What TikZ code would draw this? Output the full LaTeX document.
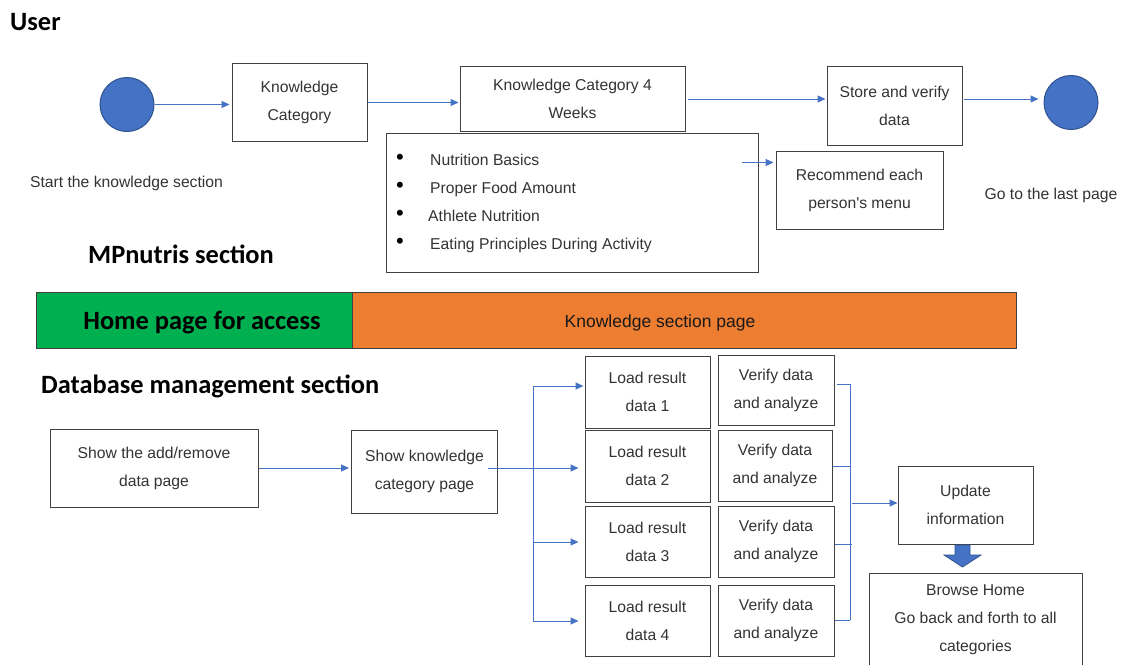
\documentclass[tikz,border=0pt]{standalone}
\usepackage{fontspec}
\setmainfont{Liberation Sans}[Ligatures=TeXOff]
\newfontfamily\headfont{Carlito}
\usetikzlibrary{arrows.meta}

\definecolor{flowblue}{HTML}{4472C4}
\definecolor{ringblue}{HTML}{2F528F}
\definecolor{boxline}{HTML}{404040}
\definecolor{boxtext}{HTML}{333333}
\definecolor{homegreen}{HTML}{00B050}
\definecolor{pageorange}{HTML}{ED7D31}

\tikzset{
  stepbox/.style={draw=boxline, line width=1pt, inner sep=0pt, align=center,
    text=boxtext, font=\fontsize{15.7}{28}\selectfont},
  flow/.style={draw=flowblue, line width=1pt},
  arr/.style={flow, -{Triangle[length=8pt,width=7pt]}},
  state/.style={circle, fill=flowblue, draw=ringblue, line width=1pt,
    minimum size=54pt, inner sep=0pt},
  heading/.style={anchor=base west, inner sep=0pt,
    font=\headfont\bfseries\fontsize{26.4}{30}\selectfont},
  caption/.style={anchor=base, inner sep=0pt, text=boxtext,
    font=\fontsize{15.7}{20}\selectfont},
  item/.style={anchor=base west, inner sep=0pt, text=boxtext,
    font=\fontsize{15.7}{20}\selectfont},
  dot/.style={anchor=base, inner sep=0pt, text=black, font=\fontsize{22}{24}\selectfont},
  band/.style={draw=boxline, line width=1pt, inner sep=0pt, minimum height=56pt},
}

\begin{document}
\begin{tikzpicture}[x=1pt,y=-1pt]
\useasboundingbox (0,0) rectangle (1123,664);
\begin{scope}
\clip (0,0) rectangle (1123,664);

% ---------- User section ----------
\node[heading] (userhead) at (10,30) {User};

\node[state] (start) at (127,104.5) {};
\node[caption] (startcap) at (126.5,187) {Start the knowledge section};

\node[stepbox, minimum width=135pt, minimum height=78pt] (kc) at (299.5,102.5)
  {Knowledge\\Category};
\node[stepbox, minimum width=225pt, minimum height=65pt] (kc4) at (572.5,98.5)
  {Knowledge Category 4\\Weeks};
\node[stepbox, minimum width=135pt, minimum height=79pt] (store) at (894.5,105.5)
  {Store and verify\\data};
\node[state] (finish) at (1071,102.5) {};
\node[caption] (finishcap) at (1051,199) {Go to the last page};

% topics of the four-week category
\node[stepbox, minimum width=372pt, minimum height=139pt] (topics) at (572,202.5) {};
\node[dot] (b1) at (400,164) {•};
\node[dot] (b2) at (400,192) {•};
\node[dot] (b3) at (400,220) {•};
\node[dot] (b4) at (400,248) {•};
\node[item] (t1) at (430,165) {Nutrition Basics};
\node[item] (t2) at (430,193) {Proper Food Amount};
\node[item] (t3) at (428,221) {Athlete Nutrition};
\node[item] (t4) at (430,249) {Eating Principles During Activity};

\node[stepbox, minimum width=167pt, minimum height=78pt] (rec) at (859.5,190)
  {Recommend each\\person's menu};

\coordinate (recin) at (742,162.5);
\coordinate (row1) at (0,99);

\draw[arr] (start.east) -- ([xshift=-2pt]kc.west |- start.east);
\draw[arr] (kc.east) -- ([xshift=-1pt]kc4.west |- kc.east);
\draw[arr] ([xshift=2pt]kc4.east |- row1) -- ([xshift=-1pt]store.west |- row1);
\draw[arr] ([xshift=1pt]store.east |- row1) -- ([xshift=-5pt]finish.west |- row1);
\draw[arr] (recin) -- ([xshift=-2pt]rec.west |- recin);

% ---------- MPnutris section ----------
\node[heading] (mphead) at (88,263) {MPnutris section};

\node[band, fill=homegreen, minimum width=316pt] (home) at (194,320) {};
\node[band, fill=pageorange, minimum width=664pt] (know) at (684,320) {};
\node[anchor=base, inner sep=0pt, font=\headfont\bfseries\fontsize{26.4}{30}\selectfont]
  (hometext) at (202,329) {Home page for access};
\node[anchor=base, inner sep=0pt, text=black!90, font=\fontsize{17.5}{20}\selectfont]
  (knowtext) at (660,327) {Knowledge section page};

% ---------- Database management section ----------
\node[heading] (dbhead) at (41,393) {Database management section};

\node[stepbox, minimum width=208pt, minimum height=78pt] (addrem) at (154,468)
  {Show the add/remove\\data page};
\node[stepbox, minimum width=146pt, minimum height=83pt] (showkc) at (424.5,471.5)
  {Show knowledge\\category page};

\node[stepbox, minimum width=125pt, minimum height=72pt] (load1) at (647.5,392) {Load result\\data 1};
\node[stepbox, minimum width=125pt, minimum height=72pt] (load2) at (647.5,466) {Load result\\data 2};
\node[stepbox, minimum width=125pt, minimum height=71pt] (load3) at (647.5,541.5) {Load result\\data 3};
\node[stepbox, minimum width=125pt, minimum height=71pt] (load4) at (647.5,620.5) {Load result\\data 4};

\node[stepbox, minimum width=116pt, minimum height=70pt] (ver1) at (776,390) {Verify data\\and analyze};
\node[stepbox, minimum width=114pt, minimum height=71pt] (ver2) at (775,465.5) {Verify data\\and analyze};
\node[stepbox, minimum width=116pt, minimum height=71pt] (ver3) at (776,541.5) {Verify data\\and analyze};
\node[stepbox, minimum width=116pt, minimum height=71pt] (ver4) at (776,620.5) {Verify data\\and analyze};

\node[stepbox, minimum width=135pt, minimum height=78pt] (upd) at (965.5,505)
  {Update\\information};
\node[stepbox, minimum width=213pt, minimum height=94pt] (browse) at (975.5,620)
  {Browse Home\\Go back and forth to all\\categories};

% fan-out to the four result loaders
\coordinate (kcout) at (488,468);
\coordinate (fantop) at (533,386);
\coordinate (fanbot) at (533,621);
\draw[arr] (addrem.east |- kcout) -- ([xshift=-2pt]showkc.west |- kcout);
\draw[flow] (fantop) -- (fanbot);
\draw[arr] (fantop) -- ([xshift=-1pt]load1.west |- fantop);
\draw[arr, shorten >=6pt] (kcout) -- (load2.west |- kcout);
\draw[arr, shorten >=6pt] (fantop |- 0,542) -- (load3.west |- 0,542);
\draw[arr, shorten >=6pt] (fanbot) -- (load4.west |- fanbot);

% fan-in from the four verifiers
\coordinate (bk1) at (850,384);
\coordinate (bk4) at (850,620);
\draw[flow] ([xshift=2pt]ver1.east |- bk1) -- (bk1) -- (bk4);
\draw[flow] (ver2.east |- 0,466) -- (bk1 |- 0,466);
\draw[flow] (ver3.east |- 0,544) -- ([xshift=2pt]bk1 |- 0,544);
\draw[flow] (ver4.east |- bk4) -- (bk4);
\draw[arr] ([xshift=2pt]bk1 |- 0,503) -- (upd.west |- 0,503);

% block arrow from update to browse
\filldraw[fill=flowblue, draw=ringblue, line width=0.8pt]
  (955,545) -- (970,545) -- (970,555) -- (981,555) -- (962.5,567)
  -- (944,555) -- (955,555) -- cycle;

\end{scope}
\end{tikzpicture}
\end{document}
